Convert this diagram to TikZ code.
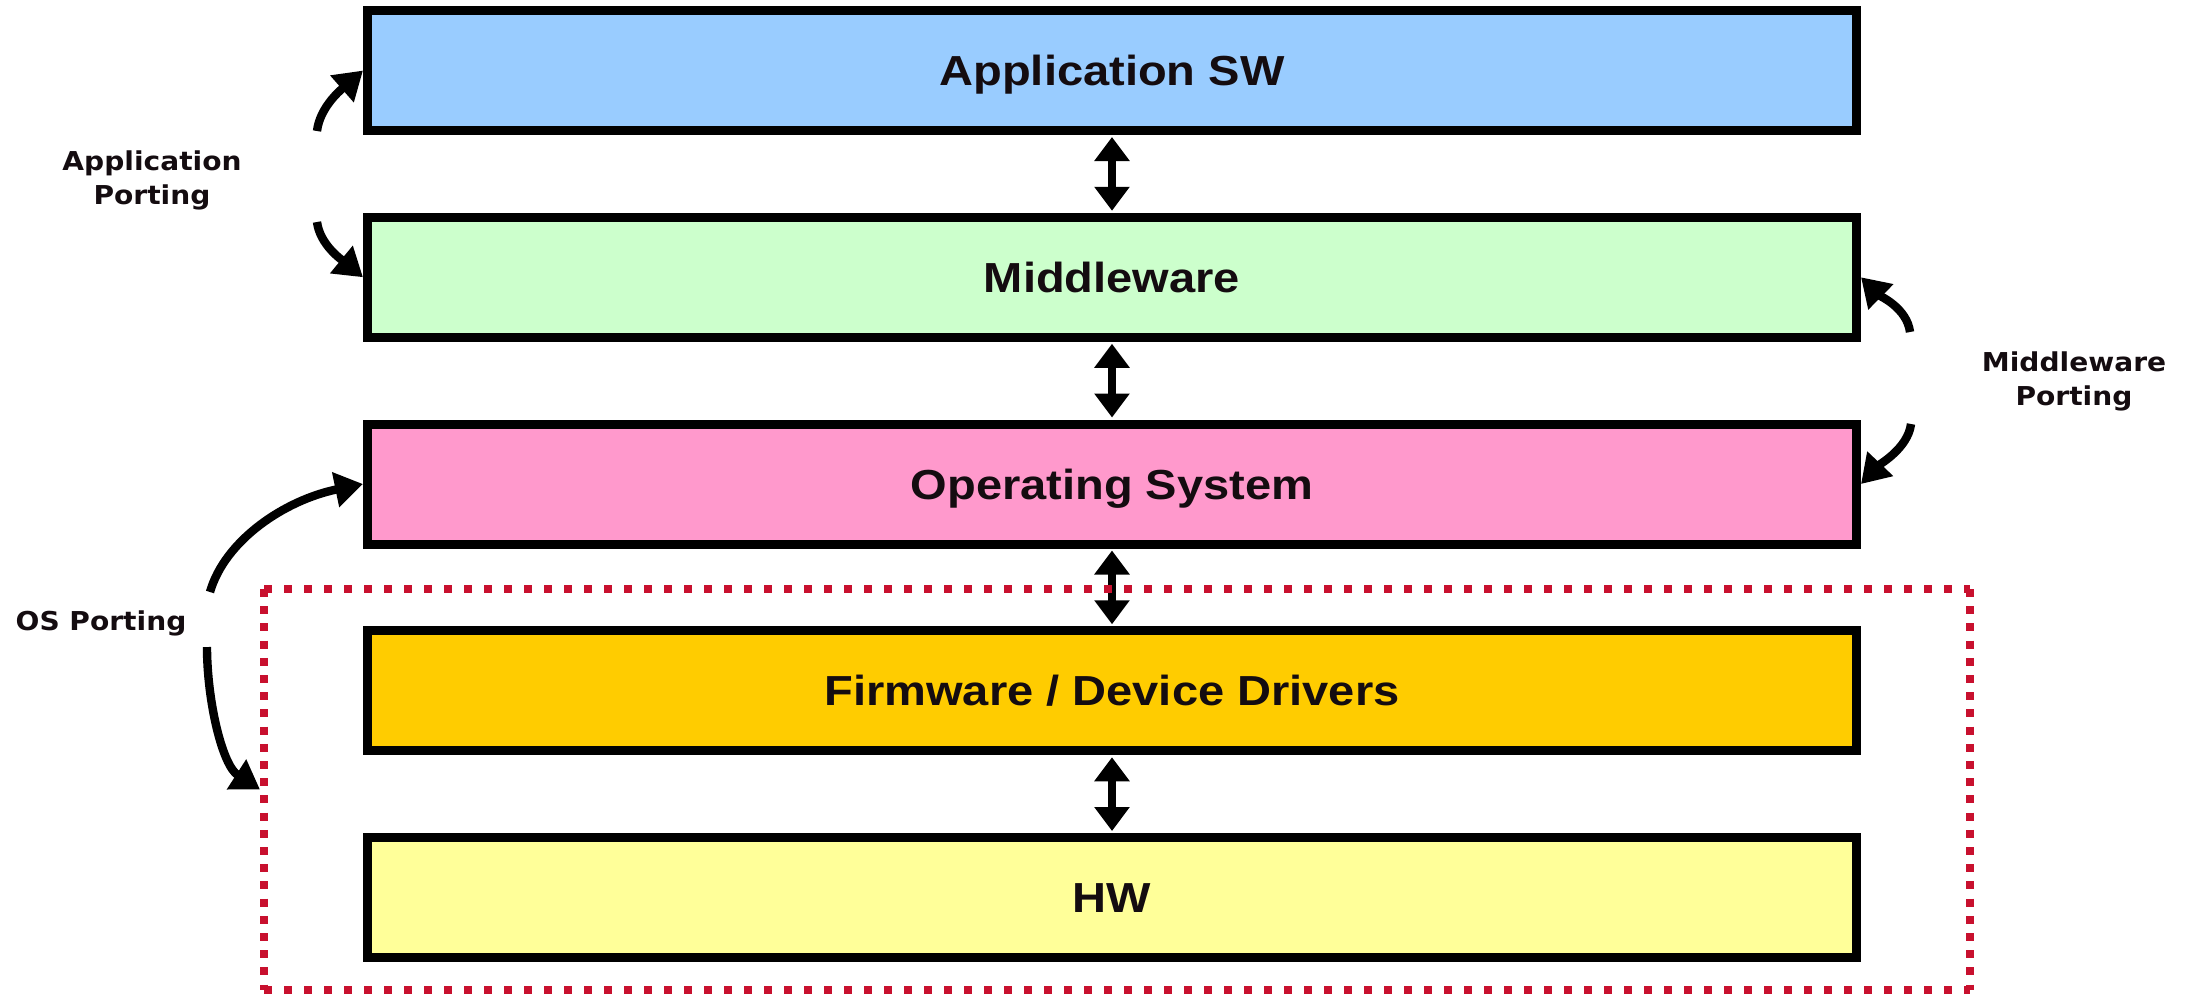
\documentclass[tikz,border=0pt]{standalone}
\usepackage{fontspec}
\newfontfamily\layerfont[FakeStretch=1.12]{Liberation Sans}
\newfontfamily\notefont[FakeStretch=1.08]{DejaVu Sans}
\usetikzlibrary{arrows.meta}

\definecolor{appblue}{RGB}{153,204,255}
\definecolor{mwgreen}{RGB}{204,255,204}
\definecolor{ospink}{RGB}{255,153,204}
\definecolor{fworange}{RGB}{255,204,0}
\definecolor{hwyellow}{RGB}{255,255,153}
\definecolor{reddot}{RGB}{200,16,46}
\definecolor{inktext}{RGB}{20,12,16}

\begin{document}
\begin{tikzpicture}[x=0.5pt,y=-0.5pt,
  layer/.style={draw=black, line width=4.5pt, minimum width=744.5pt,
    minimum height=60pt, inner sep=0pt, text=inktext,
    font=\layerfont\bfseries\fontsize{21}{25}\selectfont,
    text height=15pt, text depth=0pt},
  link/.style={line width=4pt,
    {Triangle[length=12pt,width=17pt]}-{Triangle[length=12pt,width=17pt]},
    shorten <=1pt, shorten >=1pt},
  port/.style={line width=4.2pt, -{Triangle[length=14pt,width=17pt]}},
  note/.style={font=\notefont\bfseries\fontsize{13}{17}\selectfont,
    align=center, inner sep=0pt, text=inktext},
  hdots/.style={draw=reddot, line width=4pt, dash pattern=on 4pt off 6pt},
  vdots/.style={draw=reddot, line width=4pt, dash pattern=on 4pt off 4.6pt}]

  \useasboundingbox (0,0) rectangle (2197,993);

  % software / hardware layers
  \node[layer, fill=appblue]  (app) at (1112,70.5)   {Application SW};
  \node[layer, fill=mwgreen]  (mw)  at (1112,277.25) {Middleware};
  \node[layer, fill=ospink]   (os)  at (1112,484)    {Operating System};
  \node[layer, fill=fworange] (fw)  at (1112,690.75) {Firmware / Device Drivers};
  \node[layer, fill=hwyellow] (hw)  at (1112,897.5)  {HW};

  % region holding the platform-specific layers
  \node[minimum width=853pt, minimum height=200.5pt, inner sep=0pt,
        outer sep=0pt] (fwbox) at (1117,789.5) {};

  % interfaces between neighbouring layers
  \draw[link] (app.south) -- (mw.north);
  \draw[link] (mw.south) -- (os.north);
  \draw[link] (os.south) -- (fw.north);
  \draw[link] (fw.south) -- (hw.north);

  % dotted frame
  \draw[hdots] (fwbox.north west) -- (fwbox.north east);
  \draw[hdots] (fwbox.south west) -- (fwbox.south east);
  \draw[vdots] (fwbox.north west) -- (fwbox.south west);
  \draw[vdots] (fwbox.north east) -- (fwbox.south east);

  % porting labels
  \node[note] (apnote) at (152,180)  {Application\\Porting};
  \node[note] (mpnote) at (2074,381) {Middleware\\Porting};
  \node[note, anchor=base] (opnote) at (101,630) {OS Porting};

  % porting arrows
  \coordinate (ap1) at (317,131);
  \coordinate (ap2) at (317,222);
  \coordinate (mp1) at (1910,332);
  \coordinate (mp2) at (1911,424);
  \coordinate (op1) at (210,592);
  \coordinate (op2) at (207,647);

  \draw[port] (ap1) .. controls (320,106) and (343,88) .. (app.west);
  \draw[port] (ap2) .. controls (320,245) and (342,260) .. (mw.west);
  \draw[port] (mp1) .. controls (1907,308) and (1880,296) .. (mw.east);
  \draw[port] (mp2) .. controls (1908,448) and (1880,464) .. (os.east);
  \draw[port] (op1) .. controls (225,540) and (285,500) .. (os.west);
  \draw[port] (op2) .. controls (207,700) and (222,765) .. ([xshift=-2pt]fwbox.west);
\end{tikzpicture}
\end{document}
